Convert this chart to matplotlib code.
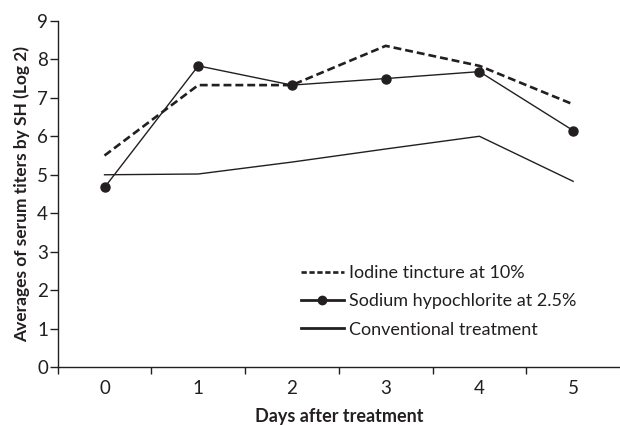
import matplotlib.pyplot as plt
from matplotlib.lines import Line2D

# Data
days = [0, 1, 2, 3, 4, 5]
day_labels = ['0', '1', '2', '3', '4', '5']
iodine = [5.5, 7.33, 7.33, 8.35, 7.83, 6.83]
sodium = [4.67, 7.83, 7.33, 7.5, 7.68, 6.15]
conventional = [5.0, 5.02, 5.33, 5.67, 6.0, 4.83]

INK = '#231f20'
plt.rcParams['font.family'] = ['Lato', 'DejaVu Sans']

fig = plt.figure(figsize=(6.2, 4.25), dpi=100)
ax = fig.add_axes([0.093, 0.136, 0.907, 0.815])

ax.plot(days, iodine, color=INK, linewidth=1.9, linestyle=(0, (3.0, 1.5)))
ax.plot(days, sodium, color=INK, linewidth=1.0, marker='o', markersize=6.5)
ax.plot(days, conventional, color=INK, linewidth=1.0)

ax.set_xlim(-0.5, 5.5)
ax.set_ylim(0, 9)
ax.set_yticks(range(0, 10))
ax.set_xticks(days)
ax.set_xticklabels(day_labels)
ax.set_xticks([d + 0.5 for d in [-1] + days[:-1]], minor=True)
ax.tick_params(axis='x', which='major', length=0, pad=9, labelsize=13.5, colors=INK)
ax.tick_params(axis='x', which='minor', length=5, width=1, direction='out', color=INK)
ax.tick_params(axis='y', length=6, width=1, direction='out', pad=1, labelsize=13.5, colors=INK)

for s in ['top', 'right']:
    ax.spines[s].set_visible(False)
for s in ['left', 'bottom']:
    ax.spines[s].set_color(INK)
    ax.spines[s].set_linewidth(1.0)

ax.set_xlabel('Days after treatment', fontweight='bold', fontsize=13, color=INK, labelpad=8)
ax.set_ylabel('Averages of serum titers by SH (Log 2)', fontweight='bold', fontsize=12.5,
              color=INK, labelpad=5)

handles = [
    Line2D([], [], color=INK, linewidth=1.9, linestyle=(0, (2.0, 1.0))),
    Line2D([], [], color=INK, linewidth=2.0, marker='o', markersize=6),
    Line2D([], [], color=INK, linewidth=2.0),
]
labels = ['Iodine tincture at 10%', 'Sodium hypochlorite at 2.5%', 'Conventional treatment']
ax.legend(handles, labels, loc='lower left', bbox_to_anchor=(0.416, 0.059), frameon=False,
          fontsize=13, handlelength=2.4, handletextpad=0.3, labelspacing=0.68,
          labelcolor=INK, borderpad=0)

fig.savefig('out.png', dpi=100)
